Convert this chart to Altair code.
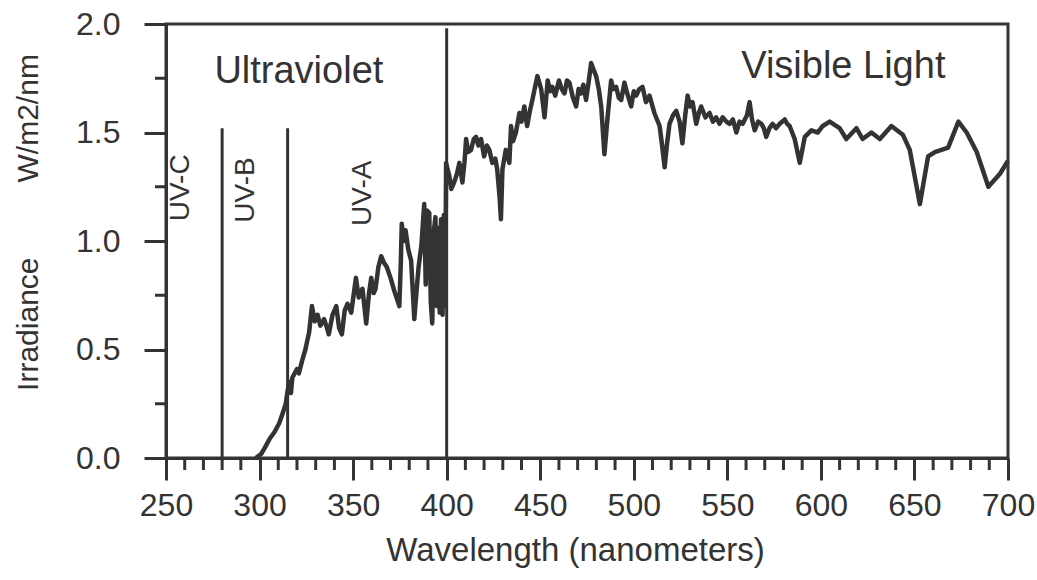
import altair as alt
import pandas as pd

# ---- spectrum data ----
wavelength = [298, 301, 303, 305.5, 308, 310.5, 312.5, 314, 315, 316, 316.8, 317.5, 320, 321, 322.8,
              324.5, 326.5, 328, 329.5, 331, 332.5, 334.5, 336, 337, 339, 341, 342.5, 344, 345.5, 347,
              349, 351.5, 353, 355, 357, 358.5, 359.7, 361, 362, 363.5, 365, 366.5, 368, 370, 372,
              374.7, 375.5, 376, 377, 378, 379.5, 381, 382.7, 384, 385, 386.5, 388, 388.8, 389.5, 390.7,
              391.5, 392.3, 393.2, 394, 394.8, 395.5, 396.3, 397, 397.8, 398.5, 399.2, 399.7, 400.5,
              401.4, 402.5, 404, 405.5, 406.8, 408.4, 409.5, 410.4, 411.5, 413, 414.5, 415.7, 417,
              418.4, 420, 421.5, 422.8, 424.4, 426, 427, 428.3, 429, 429.8, 431.6, 433.5, 434.4, 435.5,
              437, 438.9, 440, 441.5, 443, 444.5, 445.8, 447, 448.5, 450.5, 452.3, 454, 455.3, 456.5,
              458, 460, 461.5, 463, 464.3, 465.6, 467.5, 469.2, 470.5, 471.8, 473, 474.5, 476, 477.2,
              478.5, 479.9, 481.3, 482.6, 484.3, 486, 487.9, 489, 490.6, 492, 493.3, 495, 496.5, 498.6,
              500, 501.3, 503, 504.7, 506.5, 508.4, 511, 513.8, 515, 516.5, 517.8, 519.1, 521, 522.7,
              524.5, 526, 527.5, 528.8, 530, 531.4, 533.4, 534.8, 536, 538.3, 540.5, 542.3, 544, 545.8,
              547.5, 549.5, 551.2, 553, 554.8, 556.5, 558.2, 560.5, 561.9, 563.2, 564.6, 566.5, 568.2,
              569.5, 570.8, 572.5, 574.2, 576, 578, 580.7, 582, 583.3, 586, 588.7, 591.4, 594.9, 598.3,
              601, 604.7, 610, 613.6, 619, 622.3, 627, 631.5, 637.7, 643.8, 647.5, 652.9, 657.3, 660.9,
              668, 673.5, 677.9, 683.3, 689.5, 695.7, 700]
irradiance = [0.00, 0.02, 0.05, 0.09, 0.12, 0.16, 0.21, 0.25, 0.31, 0.35, 0.30, 0.37, 0.41, 0.39, 0.45,
              0.50, 0.58, 0.70, 0.63, 0.66, 0.61, 0.64, 0.60, 0.57, 0.66, 0.70, 0.60, 0.57, 0.68, 0.71,
              0.67, 0.83, 0.74, 0.78, 0.62, 0.76, 0.83, 0.76, 0.78, 0.88, 0.93, 0.90, 0.88, 0.83, 0.77,
              0.70, 0.90, 1.08, 1.00, 1.05, 0.96, 0.91, 0.64, 0.78, 0.88, 0.98, 1.17, 0.80, 1.14, 1.13,
              0.72, 0.62, 1.05, 1.11, 0.70, 1.06, 0.67, 1.10, 0.66, 1.12, 0.70, 1.36, 1.33,
              1.30, 1.24, 1.27, 1.31, 1.36, 1.27, 1.36, 1.47, 1.41, 1.42, 1.47, 1.48, 1.44,
              1.47, 1.39, 1.44, 1.42, 1.36, 1.38, 1.33, 1.20, 1.10, 1.33, 1.42, 1.36, 1.53, 1.46,
              1.50, 1.59, 1.55, 1.62, 1.53, 1.60, 1.65, 1.70, 1.76, 1.70, 1.57, 1.74, 1.69, 1.71,
              1.67, 1.74, 1.70, 1.68, 1.74, 1.73, 1.66, 1.62, 1.70, 1.68, 1.72, 1.65, 1.74, 1.82,
              1.79, 1.76, 1.70, 1.62, 1.40, 1.57, 1.74, 1.70, 1.71, 1.66, 1.65, 1.73, 1.68, 1.62,
              1.69, 1.67, 1.70, 1.71, 1.64, 1.67, 1.59, 1.53, 1.45, 1.34, 1.45, 1.54, 1.58, 1.60,
              1.55, 1.45, 1.58, 1.67, 1.62, 1.64, 1.54, 1.59, 1.62, 1.57, 1.59, 1.55, 1.57, 1.54,
              1.57, 1.55, 1.54, 1.56, 1.50, 1.55, 1.54, 1.58, 1.64, 1.56, 1.51, 1.55, 1.54,
              1.52, 1.48, 1.52, 1.54, 1.52, 1.54, 1.56, 1.54, 1.53, 1.47, 1.36, 1.48, 1.51, 1.50,
              1.53, 1.55, 1.52, 1.47, 1.52, 1.47, 1.50, 1.47, 1.53, 1.49, 1.42, 1.17, 1.39, 1.41,
              1.43, 1.55, 1.50, 1.41, 1.25, 1.31, 1.37]

# ---- axes ticks ----
x_major = [250, 300, 350, 400, 450, 500, 550, 600, 650, 700]
x_minor = [v for v in range(260, 700, 10) if v % 50 != 0]
y_major = [0.0, 0.5, 1.0, 1.5, 2.0]
y_minor = [0.25, 0.75, 1.25, 1.75]

# ---- band boundaries ----
boundary_wl = [280, 315, 400]
boundary_top = [1.52, 1.52, 1.98]

# ---- annotations ----
region_labels = ["Ultraviolet", "Visible Light"]
region_x = [321, 612]
region_y = [1.728, 1.751]

band_labels = ["UV-C", "UV-B", "UV-A"]
band_x = [258, 292.5, 355.5]
band_y = [1.245, 1.235, 1.22]

NB = "\u00a0"
y_title = "Irradiance" + NB * 9 + "W/m2/nm"
x_title = "Wavelength (nanometers)"

INK = "#333333"
FONT = "Liberation Sans"
W, H = 842, 434

spec = pd.DataFrame({"wl": wavelength, "irr": irradiance})
xscale = alt.Scale(domain=[250, 700], nice=False, zero=False)
yscale = alt.Scale(domain=[0, 2], nice=False, zero=False)

x_axis = alt.Axis(values=x_major, tickSize=22, tickWidth=3, tickColor=INK,
                  domainColor=INK, domainWidth=3, grid=False, format="d",
                  labelFont=FONT, labelFontSize=32, labelColor=INK, labelPadding=10,
                  title=x_title, titleFont=FONT, titleFontSize=33,
                  titleFontWeight="normal", titleColor=INK, titleX=409, titleY=102,
                  titleBaseline="alphabetic", labelFlush=False)
y_axis = alt.Axis(values=y_major, tickSize=22, tickWidth=3, tickColor=INK,
                  domainColor=INK, domainWidth=3, grid=False, format=".1f",
                  labelFont=FONT, labelFontSize=32, labelColor=INK, labelPadding=24,
                  title=y_title, titleFont=FONT, titleFontSize=30,
                  titleFontWeight="normal", titleColor=INK, titleX=-129, titleY=198,
                  titleBaseline="alphabetic", titleAngle=270, labelFlush=False)


def X(field):
    return alt.X(field, scale=xscale, axis=x_axis)


def Y(field):
    return alt.Y(field, scale=yscale, axis=y_axis)


line = alt.Chart(spec).mark_line(color=INK, strokeWidth=4.5, strokeJoin="round").encode(
    x=X("wl:Q"), y=Y("irr:Q"),
)

xminor = alt.Chart(pd.DataFrame({"wl": x_minor})).mark_rule(color=INK, strokeWidth=3).encode(
    x=X("wl:Q"), y=alt.value(H), y2=alt.value(H + 12),
)
yminor = alt.Chart(pd.DataFrame({"irr": y_minor})).mark_rule(color=INK, strokeWidth=3).encode(
    y=Y("irr:Q"), x=alt.value(0), x2=alt.value(-11),
)

bounds = alt.Chart(pd.DataFrame({"wl": boundary_wl, "irr": boundary_top})).mark_rule(
    color=INK, strokeWidth=3).encode(
    x=X("wl:Q"), y=Y("irr:Q"), y2=alt.datum(0),
)

regions = alt.Chart(pd.DataFrame({"t": region_labels, "wl": region_x, "irr": region_y})).mark_text(
    font=FONT, fontSize=38, color=INK, align="center", baseline="alphabetic").encode(
    x=X("wl:Q"), y=Y("irr:Q"), text="t:N",
)

bands = alt.Chart(pd.DataFrame({"t": band_labels, "wl": band_x, "irr": band_y})).mark_text(
    font=FONT, fontSize=28, color=INK, align="center", baseline="middle", angle=270).encode(
    x=X("wl:Q"), y=Y("irr:Q"), text="t:N",
)

chart = alt.layer(line, xminor, yminor, bounds, regions, bands).properties(
    width=W, height=H,
    autosize=alt.AutoSizeParams(type="none"),
    padding={"left": 166, "top": 24, "right": 29, "bottom": 122},
    background="white",
).configure_view(stroke=INK, strokeWidth=3)

chart.save("out.html", embed_options={"renderer": "svg", "actions": False})
